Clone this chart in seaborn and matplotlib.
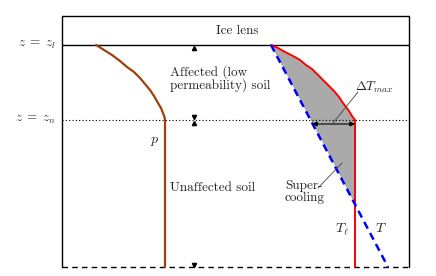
import numpy as np
import pandas as pd
import matplotlib
matplotlib.use("Agg")
import matplotlib.pyplot as plt
import seaborn as sns

# schematic, in picture units (x across, z down)
box_x = [62, 409]
z_top = 16
z_lens = 45
z_n = 120
z_bot = 267

# pressure curve p (brown)
p_x = [96, 104, 112, 120, 127, 134, 140, 145, 150, 154, 158, 161, 163, 164.5, 165, 165]
p_z = [45, 50, 55, 61, 67, 72, 78, 84, 90, 96, 103, 108, 113, 117, 120, 267]

# liquid temperature T_l (red)
tl_x = [271, 278, 285, 293, 300, 306, 312, 318, 323, 328, 334, 339, 343, 346, 349, 352, 355, 355]
tl_z = [45, 48, 52, 56, 60, 65, 69, 75, 80, 85, 91, 97, 103, 107, 111, 116, 120, 267]

# actual temperature T (blue dashed, straight)
t_x = [271, 388]
t_z = [45, 267]

# dimension arrow heads
arrow_x = 194
arrow_up = [48, 123]
arrow_down = [117, 265]

sns.set_style("white")
plt.rcParams["font.family"] = ["serif"]
plt.rcParams["font.serif"] = ["cmr10", "DejaVu Serif"]
plt.rcParams["mathtext.fontset"] = "cm"
plt.rcParams["axes.unicode_minus"] = False

fig = plt.figure(figsize=(4.36, 2.76), dpi=100)
ax = fig.add_axes([0, 0, 1, 1])

# box and levels
ax.plot([box_x[0], box_x[1]], [z_top, z_top], color="black", lw=1.0)
ax.plot([box_x[0], box_x[0]], [z_top, z_bot], color="black", lw=1.0)
ax.plot([box_x[1], box_x[1]], [z_top, z_bot], color="black", lw=1.0)
ax.plot([box_x[0], box_x[1]], [z_lens, z_lens], color="black", lw=1.0)
ax.plot([box_x[0], box_x[1]], [z_n, z_n], color="black", lw=0.8, ls=(0, (1, 2)))
ax.plot([box_x[0], box_x[1]], [z_bot, z_bot], color="black", lw=1.0, ls=(0, (4, 3)))

# supercooled region between T and T_l
zz = np.linspace(z_lens, 204, 200)
t_line = np.interp(zz, t_z, t_x)
tl_line = np.interp(zz, tl_z[:-1], tl_x[:-1])
ax.fill_betweenx(zz, t_line, np.maximum(tl_line, t_line), color="#aaaaaa", lw=0)

sns.lineplot(data=pd.DataFrame({"x": p_x, "z": p_z}), x="x", y="z", sort=False,
             estimator=None, color="#a0400a", lw=1.6, ax=ax)
sns.lineplot(data=pd.DataFrame({"x": tl_x, "z": tl_z}), x="x", y="z", sort=False,
             estimator=None, color="#ff0000", lw=1.4, ax=ax)
sns.lineplot(data=pd.DataFrame({"x": t_x, "z": t_z}), x="x", y="z", sort=False,
             estimator=None, color="#0000ff", lw=1.8, ls=(0, (3, 2)), ax=ax)
ax.set_xlim(0, 436)
ax.set_ylim(276, 0)
ax.axis("off")

# dimension arrow heads
ax.plot([arrow_x] * len(arrow_up), arrow_up, ls="none", marker="^", ms=3, color="black")
ax.plot([arrow_x] * len(arrow_down), arrow_down, ls="none", marker="v", ms=3, color="black")

# delta T max
ax.annotate("", xy=(312, 124), xytext=(355, 124),
            arrowprops=dict(arrowstyle="<|-|>", color="black", lw=0.8,
                            mutation_scale=7, shrinkA=0, shrinkB=0))
ax.plot([333, 358], [123, 92], color="#444444", lw=0.6)
ax.plot([318, 342], [188, 163], color="#444444", lw=0.6)

fs = 9.5
ax.text(237, 31, "Ice lens", fontsize=fs, ha="center", va="center")
ax.text(170, 79, "Affected (low\npermeability) soil", fontsize=fs, ha="left",
        va="center", linespacing=1.0)
ax.text(170, 188, "Unaffected soil", fontsize=fs, ha="left", va="center")
ax.text(285, 192, "Super-\ncooling", fontsize=fs, ha="left", va="center", linespacing=1.0)
ax.text(355, 87, r"$\Delta T_{max}$", fontsize=fs, ha="left", va="center")
ax.text(155, 141, r"$p$", fontsize=fs + 0.5, ha="center", va="center")
ax.text(342, 229, r"$T_\ell$", fontsize=fs + 0.5, ha="center", va="center")
ax.text(381, 229, r"$T$", fontsize=fs + 0.5, ha="center", va="center")
ax.text(56, 45, r"$z\;=\;z_l$", fontsize=fs, ha="right", va="center")
ax.text(56, 120, r"$z\;=\;z_n$", fontsize=fs, ha="right", va="center")

fig.savefig("out.png", dpi=100)
